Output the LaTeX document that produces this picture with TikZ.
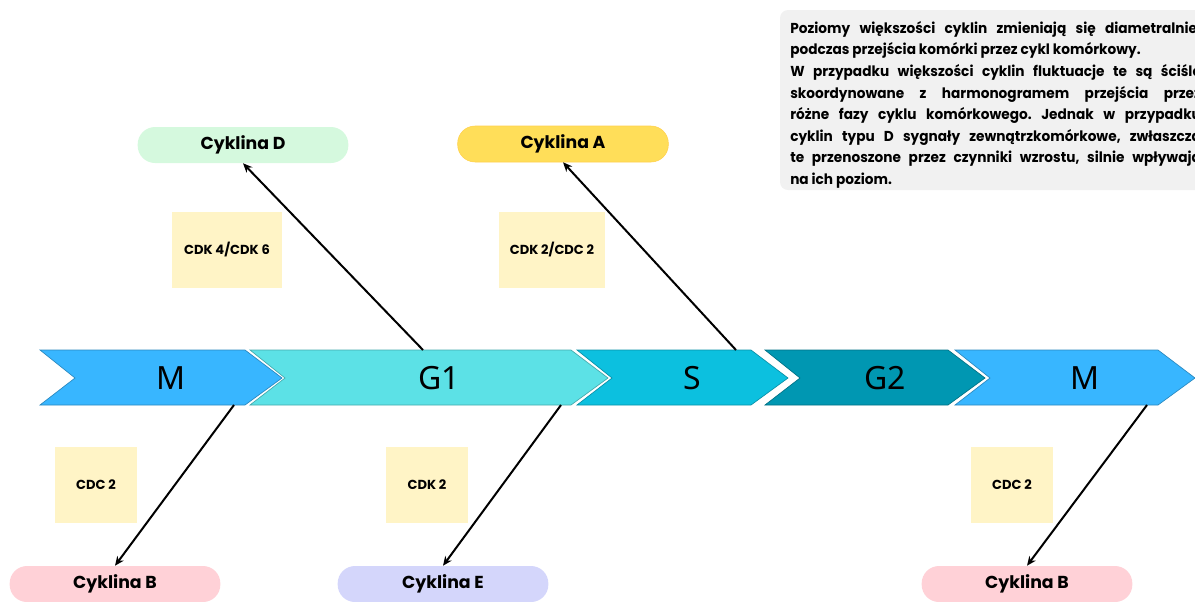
\documentclass[tikz,border=0pt]{standalone}
\usepackage{fontspec}
\setmainfont{Poppins}
\newfontfamily\phasefont{Noto Sans}
\newfontfamily\notefont[FakeStretch=0.95]{Poppins}
\usetikzlibrary{arrows.meta}
\definecolor{mblue}{HTML}{38B6FF}
\definecolor{gturq}{HTML}{5CE1E6}
\definecolor{scyan}{HTML}{0CC0DF}
\definecolor{gteal}{HTML}{0097B2}
\definecolor{pgreen}{HTML}{D5F9DE}
\definecolor{pyellow}{HTML}{FFDE59}
\definecolor{ppink}{HTML}{FFD1D7}
\definecolor{plilac}{HTML}{D4D6FB}
\definecolor{sticky}{HTML}{FFF4C6}
\definecolor{notegray}{HTML}{F1F1F1}

\newcommand{\phasearrow}[5]{%
  \fill[#4, draw=#4!75!black, line width=0.5pt] (#2,350) -- (#3-37,350) -- (#3,378) -- (#3-37,405) -- (#2,405) -- (#2+35,378) -- cycle;
  \node[phase] (#1) at ({(#2+#3)/2+10},378) {#5};
}

\begin{document}
\begin{tikzpicture}[x=0.75pt, y=-0.75pt,
  phase/.style = {font=\phasefont\fontsize{24}{26}\selectfont, text=black, inner sep=0pt},
  pill/.style = {rounded corners=13pt, minimum width=158pt, minimum height=27pt, font=\bfseries\fontsize{13}{15}\selectfont, inner sep=0pt},
  sticky/.style = {fill=sticky, minimum width=61pt, minimum height=57pt, font=\bfseries\fontsize{9.8}{12}\selectfont, inner sep=0pt},
  conn/.style = {line width=1.5pt, -{Stealth[length=7pt, width=6pt]}},
  notetext/.style = {anchor=north west, inner sep=0pt, text width=308pt, align=justify, font=\notefont\bfseries\fontsize{10.8}{16.2}\selectfont\frenchspacing}]
\useasboundingbox (0,0) rectangle (1195,601);

\phasearrow{m1}{40}{282}{mblue}{M}
\phasearrow{g1}{250}{608}{gturq}{G1}
\phasearrow{s}{577}{788}{scyan}{S}
\phasearrow{g2}{765}{985}{gteal}{G2}
\phasearrow{m2}{955}{1195}{mblue}{M}

\node[pill, fill=pgreen] (cykD) at (243,145) {\strut Cyklina D};
\node[pill, fill=pyellow, draw=pyellow!85!orange] (cykA) at (563,144) {\strut Cyklina A};
\node[pill, fill=ppink] (cykB1) at (115,584) {\strut Cyklina B};
\node[pill, fill=plilac] (cykE) at (443,584) {\strut Cyklina E};
\node[pill, fill=ppink] (cykB2) at (1027,584) {\strut Cyklina B};

\node[sticky, minimum width=83pt] (cdk46) at (227,250) {CDK 4/CDK 6};
\node[sticky, minimum width=79pt] (cdk2cdc2) at (552,250) {CDK 2/CDC 2};
\node[sticky] (cdc2a) at (96,485) {CDC 2};
\node[sticky] (cdk2) at (427,485) {CDK 2};
\node[sticky] (cdc2b) at (1012,485) {CDC 2};

\coordinate (g1top) at (423,350);
\coordinate (stop) at (736,350);
\coordinate (m1bot) at (234,405);
\coordinate (g1bot) at (561,405);
\coordinate (m2bot) at (1147,405);

\draw[conn] (g1top) -- (cykD.south);
\draw[conn] (stop) -- (cykA.south);
\draw[conn] (m1bot) -- (cykB1.north);
\draw[conn] (g1bot) -- (cykE.north);
\draw[conn] (m2bot) -- (cykB2.north);

\fill[notegray, rounded corners=6pt] (780,10) rectangle (1225,190);
\node[notetext] (info) at (790,21) {Poziomy większości cyklin zmieniają się diametralnie,\linebreak
podczas przejścia komórki przez cykl komórkowy.\par
W przypadku większości cyklin fluktuacje te są ściśle\linebreak
skoordynowane z harmonogramem przejścia przez\linebreak
różne fazy cyklu komórkowego. Jednak w przypadku\linebreak
cyklin typu D sygnały zewnątrzkomórkowe, zwłaszcza\linebreak
te przenoszone przez czynniki wzrostu, silnie wpływają\linebreak
na ich poziom.};
\end{tikzpicture}
\end{document}
